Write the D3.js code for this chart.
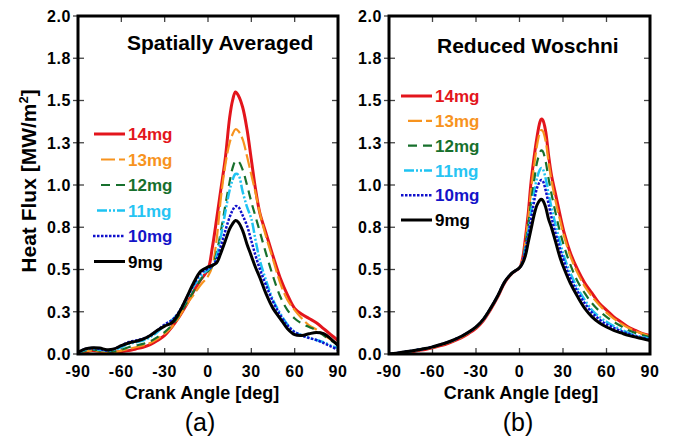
<!DOCTYPE html>
<html><head><meta charset="utf-8">
<script src="https://cdn.jsdelivr.net/npm/d3@7"></script>
<style>body{margin:0;background:#fff}svg{display:block}text{font-family:"Liberation Sans",Arial,sans-serif}</style>
</head><body><svg id="c" width="675" height="440"></svg>
<script>
// ---------- DATA ----------
const seriesNames = ["14mg","13mg","12mg","11mg","10mg","9mg"];
const xTicks = [-90,-60,-30,0,30,60,90];
const yTicks = [0,0.25,0.5,0.75,1,1.25,1.5,1.75,2];
const yTickLabels = ["0.0","0.3","0.5","0.8","1.0","1.3","1.5","1.8","2.0"];
const panelTitles = ["Spatially Averaged","Reduced Woschni"];
const panelLabels = ["(a)","(b)"];

// (a) Spatially averaged
const angleA = [-90,-85,-80,-75,-70,-65,-60,-55,-50,-45,-40,-35,-30,-25,-20,-15,-10,-5,0,3,6,9,12,15,17,19,21,24,27,30,33,36,40,45,50,55,60,65,70,75,80,85,90];
const a14 = [0.0,0.01,0.02,0.015,0.01,0.01,0.015,0.02,0.03,0.04,0.055,0.08,0.11,0.16,0.22,0.29,0.37,0.44,0.50,0.63,0.80,0.98,1.16,1.40,1.50,1.55,1.53,1.46,1.33,1.15,0.97,0.83,0.72,0.58,0.45,0.35,0.27,0.235,0.21,0.185,0.15,0.115,0.08];
const a13 = [0.005,0.015,0.02,0.015,0.01,0.01,0.02,0.03,0.04,0.05,0.065,0.09,0.12,0.16,0.22,0.29,0.35,0.41,0.46,0.52,0.68,0.93,1.12,1.25,1.30,1.33,1.32,1.27,1.17,1.06,0.95,0.83,0.70,0.56,0.42,0.32,0.26,0.21,0.17,0.145,0.115,0.085,0.058];
const a12 = [0.005,0.02,0.025,0.02,0.015,0.015,0.025,0.04,0.05,0.06,0.075,0.10,0.13,0.17,0.23,0.30,0.37,0.44,0.49,0.52,0.60,0.73,0.88,1.02,1.10,1.14,1.14,1.09,1.00,0.90,0.81,0.72,0.60,0.46,0.34,0.26,0.21,0.18,0.16,0.14,0.11,0.08,0.06];
const a11 = [0.005,0.025,0.03,0.025,0.02,0.025,0.04,0.06,0.07,0.08,0.10,0.13,0.17,0.20,0.25,0.32,0.40,0.46,0.50,0.52,0.58,0.70,0.84,0.97,1.03,1.065,1.06,0.96,0.87,0.80,0.67,0.55,0.44,0.32,0.24,0.175,0.13,0.11,0.095,0.083,0.07,0.05,0.035];
const a10 = [0.01,0.03,0.035,0.03,0.02,0.03,0.05,0.07,0.08,0.09,0.11,0.14,0.175,0.20,0.25,0.33,0.41,0.48,0.505,0.52,0.56,0.64,0.73,0.81,0.85,0.875,0.87,0.82,0.76,0.67,0.58,0.50,0.41,0.31,0.23,0.17,0.13,0.11,0.095,0.083,0.065,0.045,0.025];
const a9  = [0.01,0.03,0.037,0.035,0.025,0.03,0.05,0.065,0.075,0.088,0.11,0.14,0.165,0.185,0.245,0.33,0.42,0.49,0.515,0.525,0.54,0.60,0.67,0.74,0.77,0.79,0.78,0.73,0.65,0.58,0.51,0.45,0.36,0.27,0.21,0.15,0.115,0.11,0.12,0.127,0.12,0.09,0.05];

// (b) Reduced Woschni
const angleB = [-90,-85,-80,-75,-70,-65,-60,-55,-50,-45,-40,-35,-30,-25,-20,-15,-10,-5,0,2,4,6,8,10,12,14,15,16,18,20,22,25,28,31,35,40,45,50,55,60,65,70,75,80,85,90];
const b14 = [0.0,0.0,0.006,0.012,0.02,0.027,0.036,0.048,0.06,0.077,0.097,0.122,0.152,0.197,0.262,0.338,0.425,0.478,0.51,0.56,0.68,0.83,1.02,1.16,1.28,1.37,1.39,1.385,1.32,1.18,1.06,0.94,0.82,0.71,0.60,0.50,0.42,0.36,0.30,0.26,0.22,0.19,0.16,0.14,0.12,0.11];
const b13 = [0.0,0.002,0.008,0.015,0.022,0.03,0.039,0.051,0.064,0.08,0.10,0.126,0.156,0.201,0.266,0.341,0.428,0.479,0.51,0.55,0.66,0.80,0.97,1.11,1.23,1.31,1.325,1.32,1.26,1.14,1.03,0.90,0.79,0.69,0.58,0.48,0.40,0.34,0.29,0.245,0.21,0.18,0.155,0.135,0.12,0.105];
const b12 = [0.0,0.003,0.01,0.016,0.024,0.031,0.04,0.053,0.066,0.083,0.103,0.128,0.158,0.203,0.268,0.343,0.429,0.48,0.51,0.55,0.64,0.76,0.90,1.02,1.13,1.19,1.205,1.20,1.14,1.04,0.95,0.83,0.72,0.63,0.53,0.43,0.36,0.30,0.255,0.22,0.19,0.165,0.14,0.125,0.11,0.10];
const b11 = [0.0,0.004,0.011,0.017,0.025,0.032,0.041,0.054,0.067,0.084,0.104,0.129,0.159,0.204,0.269,0.344,0.43,0.48,0.51,0.545,0.62,0.72,0.84,0.95,1.04,1.09,1.10,1.095,1.04,0.95,0.87,0.76,0.66,0.57,0.48,0.39,0.32,0.26,0.22,0.19,0.165,0.145,0.125,0.11,0.10,0.09];
const b10 = [0.0,0.005,0.012,0.018,0.025,0.032,0.042,0.055,0.068,0.085,0.105,0.13,0.16,0.205,0.27,0.345,0.43,0.48,0.51,0.54,0.61,0.70,0.80,0.90,0.98,1.02,1.03,1.025,0.97,0.89,0.81,0.71,0.62,0.54,0.45,0.37,0.30,0.245,0.205,0.175,0.155,0.135,0.12,0.105,0.095,0.085];
const b9  = [0.0,0.005,0.012,0.018,0.025,0.032,0.042,0.055,0.068,0.085,0.105,0.13,0.16,0.205,0.27,0.345,0.43,0.48,0.51,0.535,0.58,0.66,0.74,0.82,0.88,0.91,0.915,0.91,0.87,0.80,0.75,0.66,0.57,0.50,0.42,0.34,0.27,0.22,0.185,0.16,0.14,0.125,0.11,0.10,0.09,0.08];

// ---------- STYLE ----------
const styles = [
  {color:"#e3151c", text:"#e3151c", w:3,   dash:null},
  {color:"#f7931e", text:"#f7931e", w:2.2, dash:"14,4"},
  {color:"#17702d", text:"#17702d", w:2.2, dash:"9,6"},
  {color:"#1ec3f2", text:"#27c4f3", w:2.5, dash:"10,2,2,2,2,2"},
  {color:"#1010cc", text:"#1414c8", w:2.5, dash:"2.5,1.5"},
  {color:"#000000", text:"#000000", w:3,   dash:null}
];

const panels = [
  {x0:78, x1:338, angles:angleA, data:[a14,a13,a12,a11,a10,a9],
   title:{x:127, y:50}, legend:{x1:125, y0:134, dy:25.5, starts:[94,101,101,97,93,94]},
   xTitleX:202, labelX:200},
  {x0:389, x1:650, angles:angleB, data:[b14,b13,b12,b11,b10,b9],
   title:{x:437, y:53}, legend:{x1:432, y0:96, dy:24.8, starts:[401,408,408,404,401,401]},
   xTitleX:521, labelX:518}
];
const yTop = 16, yBot = 354;

const svg = d3.select("#c");

panels.forEach((p, pi) => {
  const x = d3.scaleLinear().domain([-90,90]).range([p.x0,p.x1]);
  const y = d3.scaleLinear().domain([0,2]).range([yBot,yTop]);
  const g = svg.append("g");

  const clipId = "clip"+pi;
  svg.append("clipPath").attr("id",clipId).append("rect")
    .attr("x",p.x0).attr("y",yTop).attr("width",p.x1-p.x0).attr("height",yBot-yTop);

  // ticks (inside on bottom/top/right; crossing on left)
  const tk = g.append("g").attr("stroke","#444").attr("stroke-width",1.3);
  xTicks.forEach(t => {
    tk.append("line").attr("x1",x(t)).attr("x2",x(t)).attr("y1",yBot).attr("y2",yBot-6);
    tk.append("line").attr("x1",x(t)).attr("x2",x(t)).attr("y1",yTop).attr("y2",yTop+6);
  });
  yTicks.forEach(t => {
    tk.append("line").attr("x1",p.x0-5).attr("x2",p.x0+6).attr("y1",y(t)).attr("y2",y(t));
    tk.append("line").attr("x1",p.x1).attr("x2",p.x1-6).attr("y1",y(t)).attr("y2",y(t));
  });

  // tick labels
  yTicks.forEach((t,i) => {
    g.append("text").attr("x",p.x0-7).attr("y",y(t)).attr("dy","0.36em")
      .attr("text-anchor","end").attr("font-size",16).attr("font-weight","bold")
      .attr("letter-spacing","0.6px").text(yTickLabels[i]);
  });
  xTicks.forEach(t => {
    g.append("text").attr("x",x(t)).attr("y",yBot+23)
      .attr("text-anchor","middle").attr("font-size",16).attr("font-weight","bold")
      .attr("letter-spacing","0.6px").text(t);
  });

  // curves
  const line = d3.line().x(d=>x(d[0])).y(d=>y(d[1])).curve(d3.curveCatmullRom.alpha(0.5));
  const cg = g.append("g").attr("clip-path",`url(#${clipId})`);
  p.data.forEach((vals, si) => {
    const st = styles[si];
    const pts = p.angles.map((a,i)=>[a, vals[i]]);
    cg.append("path").attr("d",line(pts)).attr("fill","none")
      .attr("stroke",st.color).attr("stroke-width",st.w)
      .attr("stroke-dasharray",st.dash).attr("stroke-linejoin","round");
  });

  // frame
  g.append("rect").attr("x",p.x0).attr("y",yTop).attr("width",p.x1-p.x0).attr("height",yBot-yTop)
    .attr("fill","none").attr("stroke","#000").attr("stroke-width",3);

  // title
  g.append("text").attr("x",p.title.x).attr("y",p.title.y).attr("font-size",21)
    .attr("font-weight","bold").text(panelTitles[pi]);

  // legend
  seriesNames.forEach((nm, si) => {
    const st = styles[si];
    const ly = p.legend.y0 + si*p.legend.dy;
    g.append("line").attr("x1",p.legend.starts[si]).attr("x2",p.legend.x1)
      .attr("y1",ly).attr("y2",ly).attr("stroke",st.color).attr("stroke-width",st.w)
      .attr("stroke-dasharray",st.dash);
    g.append("text").attr("x",p.legend.x1+3).attr("y",ly).attr("dy","0.36em")
      .attr("font-size",17).attr("font-weight","bold").attr("fill",st.text).text(nm);
  });

  // axis title
  g.append("text").attr("x",p.xTitleX).attr("y",yBot+45).attr("text-anchor","middle")
    .attr("font-size",18).attr("font-weight","bold").text("Crank Angle [deg]");

  // panel label
  g.append("text").attr("x",p.labelX).attr("y",yBot+77).attr("text-anchor","middle")
    .attr("font-size",25).text(panelLabels[pi]);
});

// y title (left only)
const yt = svg.append("text").attr("transform","translate(36,181) rotate(-90)")
  .attr("text-anchor","middle").attr("font-size",21).attr("font-weight","bold");
yt.append("tspan").text("Heat Flux [MW/m");
yt.append("tspan").attr("dy",-8).attr("font-size",13).text("2");
yt.append("tspan").attr("dy",8).text("]");
</script></body></html>
